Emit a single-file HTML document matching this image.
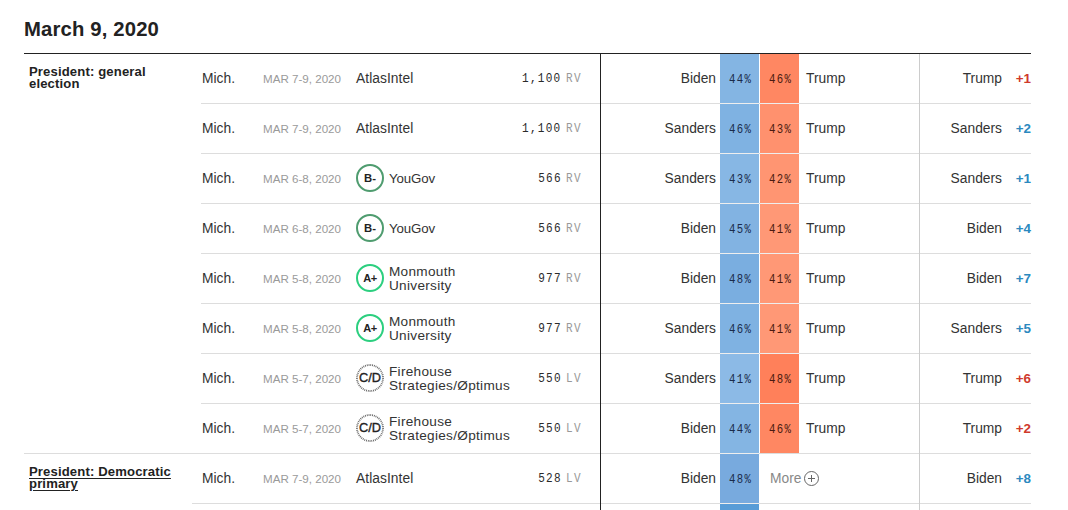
<!DOCTYPE html><html><head><meta charset="utf-8"><style>
*{margin:0;padding:0;box-sizing:border-box}
html,body{width:1068px;height:510px;overflow:hidden;background:#fff}
body{font-family:"Liberation Sans",sans-serif;color:#222;position:relative}
h1{position:absolute;left:24px;top:17px;letter-spacing:0.15px;font-size:20.3px;font-weight:bold;line-height:24px;color:#222;white-space:nowrap}
.topline{position:absolute;left:24px;top:53px;width:1007px;height:1px;background:#222}
.type{position:absolute;left:29px;letter-spacing:0.14px;font-size:13.1px;font-weight:bold;line-height:11.5px;color:#222;white-space:nowrap}
.type.u{text-decoration:underline;text-underline-offset:2px}
.vl{position:absolute;left:600px;top:53px;width:1px;height:457px;background:#222}
.vg{position:absolute;left:919px;top:54px;width:1px;height:456px;background:#ccc}
.sep{position:absolute;left:201px;width:830px;height:1px;background:#ddd}
.sepc{position:absolute;width:39px;height:1px;background:rgba(255,255,255,0.5)}
.t{position:absolute;white-space:nowrap;font-size:13.8px;line-height:16px;letter-spacing:0}
.state{left:202px;color:#333}
.date{left:263px;font-size:11.6px;color:#9a9a9a;letter-spacing:0}
.poll{left:356px;color:#333;font-size:13.8px;letter-spacing:0.05px}
.poll2{left:389px;color:#333;line-height:14px;font-size:13.3px;letter-spacing:-0.15px}
.poll2.two{letter-spacing:0.3px;font-size:13.6px}
.grade{position:absolute;left:356px;width:28px;height:28px;border-radius:50%;font-weight:bold;text-align:center;line-height:24px;color:#222;white-space:nowrap}
.bm{border:2px solid #4f9c6f;font-size:11.3px}
.ap{border:2px solid #2ccf7f;font-size:11px;letter-spacing:-0.4px}
.cd{border:2px solid transparent;font-size:12.8px;letter-spacing:0;font-weight:normal;-webkit-text-stroke:0.35px #222}
.cdsvg{position:absolute;left:356px;width:28px;height:28px}
.mono{font-family:"Liberation Mono",monospace;letter-spacing:0}
.sample{right:506px;font-size:13px;color:#2a2a2a;letter-spacing:1.5px !important;transform:scaleX(0.85);transform-origin:100% 50%}
.pop{left:566px;font-size:13px;color:#999;letter-spacing:1.5px !important;transform:scaleX(0.85);transform-origin:0 50%}
.c1{right:352px;color:#333}
.c2{left:806px;color:#333}
.col{position:absolute;width:39px}
.pct{position:absolute;width:40px;text-align:center;font-size:13px;line-height:16px;letter-spacing:1.6px !important;transform:scaleX(0.82);transform-origin:50% 50%;padding-left:1.4px}
.leader{right:66px;color:#333}
.net{right:37px;font-weight:bold;font-size:13.4px}
.net.r{color:#cf3a2c}
.net.b{color:#2b89bf}
.more{left:770px;color:#888}
.plus{position:absolute;left:804px;width:15px;height:15px;border:1px solid #666;border-radius:50%}
.plus:before{content:"";position:absolute;left:3px;top:6px;width:7px;height:1px;background:#666}
.plus:after{content:"";position:absolute;left:6px;top:3px;width:1px;height:7px;background:#666}
</style></head><body>
<h1>March 9, 2020</h1>
<div class="type" style="top:66px">President: general<br>election</div>
<div class="type u" style="top:466px">President: Democratic<br>primary</div>
<div class="col" style="left:720px;top:54px;height:456px;background:#fff"></div>
<div class="col" style="left:720px;top:53px;height:50px;background:rgb(132,181,227)"></div>
<div class="pct mono" style="left:720px;top:72px;color:#1a2a4a">44%</div>
<div class="col" style="left:760px;top:53px;height:50px;background:rgb(255,135,98)"></div>
<div class="pct mono" style="left:760px;top:72px;color:#4a1a10">46%</div>
<div class="t c2" style="top:71px">Trump</div>
<div class="t state" style="top:71px">Mich.</div>
<div class="t date" style="top:71px">MAR 7-9, 2020</div>
<div class="t poll" style="top:71px">AtlasIntel</div>
<div class="t sample mono" style="top:71px">1,100</div>
<div class="t pop mono" style="top:71px">RV</div>
<div class="t c1" style="top:71px">Biden</div>
<div class="t leader" style="top:71px">Trump</div>
<div class="t net r" style="top:71px">+1</div>
<div class="col" style="left:720px;top:103px;height:50px;background:rgb(127,178,226)"></div>
<div class="pct mono" style="left:720px;top:122px;color:#1a2a4a">46%</div>
<div class="col" style="left:760px;top:103px;height:50px;background:rgb(255,145,110)"></div>
<div class="pct mono" style="left:760px;top:122px;color:#4a1a10">43%</div>
<div class="t c2" style="top:121px">Trump</div>
<div class="t state" style="top:121px">Mich.</div>
<div class="t date" style="top:121px">MAR 7-9, 2020</div>
<div class="t poll" style="top:121px">AtlasIntel</div>
<div class="t sample mono" style="top:121px">1,100</div>
<div class="t pop mono" style="top:121px">RV</div>
<div class="t c1" style="top:121px">Sanders</div>
<div class="t leader" style="top:121px">Sanders</div>
<div class="t net b" style="top:121px">+2</div>
<div class="col" style="left:720px;top:153px;height:50px;background:rgb(135,183,228)"></div>
<div class="pct mono" style="left:720px;top:172px;color:#1a2a4a">43%</div>
<div class="col" style="left:760px;top:153px;height:50px;background:rgb(255,149,114)"></div>
<div class="pct mono" style="left:760px;top:172px;color:#4a1a10">42%</div>
<div class="t c2" style="top:171px">Trump</div>
<div class="t state" style="top:171px">Mich.</div>
<div class="t date" style="top:171px">MAR 6-8, 2020</div>
<div class="grade bm" style="top:164px">B-</div>
<div class="t poll2" style="top:172px">YouGov</div>
<div class="t sample mono" style="top:171px">566</div>
<div class="t pop mono" style="top:171px">RV</div>
<div class="t c1" style="top:171px">Sanders</div>
<div class="t leader" style="top:171px">Sanders</div>
<div class="t net b" style="top:171px">+1</div>
<div class="col" style="left:720px;top:203px;height:50px;background:rgb(130,179,226)"></div>
<div class="pct mono" style="left:720px;top:222px;color:#1a2a4a">45%</div>
<div class="col" style="left:760px;top:203px;height:50px;background:rgb(255,152,118)"></div>
<div class="pct mono" style="left:760px;top:222px;color:#4a1a10">41%</div>
<div class="t c2" style="top:221px">Trump</div>
<div class="t state" style="top:221px">Mich.</div>
<div class="t date" style="top:221px">MAR 6-8, 2020</div>
<div class="grade bm" style="top:214px">B-</div>
<div class="t poll2" style="top:222px">YouGov</div>
<div class="t sample mono" style="top:221px">566</div>
<div class="t pop mono" style="top:221px">RV</div>
<div class="t c1" style="top:221px">Biden</div>
<div class="t leader" style="top:221px">Biden</div>
<div class="t net b" style="top:221px">+4</div>
<div class="col" style="left:720px;top:253px;height:50px;background:rgb(122,174,224)"></div>
<div class="pct mono" style="left:720px;top:272px;color:#1a2a4a">48%</div>
<div class="col" style="left:760px;top:253px;height:50px;background:rgb(255,152,118)"></div>
<div class="pct mono" style="left:760px;top:272px;color:#4a1a10">41%</div>
<div class="t c2" style="top:271px">Trump</div>
<div class="t state" style="top:271px">Mich.</div>
<div class="t date" style="top:271px">MAR 5-8, 2020</div>
<div class="grade ap" style="top:264px">A+</div>
<div class="t poll2 two" style="top:265px">Monmouth<br>University</div>
<div class="t sample mono" style="top:271px">977</div>
<div class="t pop mono" style="top:271px">RV</div>
<div class="t c1" style="top:271px">Biden</div>
<div class="t leader" style="top:271px">Biden</div>
<div class="t net b" style="top:271px">+7</div>
<div class="col" style="left:720px;top:303px;height:50px;background:rgb(127,178,226)"></div>
<div class="pct mono" style="left:720px;top:322px;color:#1a2a4a">46%</div>
<div class="col" style="left:760px;top:303px;height:50px;background:rgb(255,152,118)"></div>
<div class="pct mono" style="left:760px;top:322px;color:#4a1a10">41%</div>
<div class="t c2" style="top:321px">Trump</div>
<div class="t state" style="top:321px">Mich.</div>
<div class="t date" style="top:321px">MAR 5-8, 2020</div>
<div class="grade ap" style="top:314px">A+</div>
<div class="t poll2 two" style="top:315px">Monmouth<br>University</div>
<div class="t sample mono" style="top:321px">977</div>
<div class="t pop mono" style="top:321px">RV</div>
<div class="t c1" style="top:321px">Sanders</div>
<div class="t leader" style="top:321px">Sanders</div>
<div class="t net b" style="top:321px">+5</div>
<div class="col" style="left:720px;top:353px;height:50px;background:rgb(140,186,230)"></div>
<div class="pct mono" style="left:720px;top:372px;color:#1a2a4a">41%</div>
<div class="col" style="left:760px;top:353px;height:50px;background:rgb(255,128,90)"></div>
<div class="pct mono" style="left:760px;top:372px;color:#4a1a10">48%</div>
<div class="t c2" style="top:371px">Trump</div>
<div class="t state" style="top:371px">Mich.</div>
<div class="t date" style="top:371px">MAR 5-7, 2020</div>
<svg class="cdsvg" style="top:364px" width="28" height="28" viewBox="0 0 28 28"><circle cx="14" cy="14" r="13" fill="none" stroke="#666" stroke-width="1.8" stroke-dasharray="0.9 0.9"/></svg>
<div class="grade cd" style="top:364px">C/D</div>
<div class="t poll2 two" style="top:365px">Firehouse<br>Strategies/Øptimus</div>
<div class="t sample mono" style="top:371px">550</div>
<div class="t pop mono" style="top:371px">LV</div>
<div class="t c1" style="top:371px">Sanders</div>
<div class="t leader" style="top:371px">Trump</div>
<div class="t net r" style="top:371px">+6</div>
<div class="col" style="left:720px;top:403px;height:50px;background:rgb(132,181,227)"></div>
<div class="pct mono" style="left:720px;top:422px;color:#1a2a4a">44%</div>
<div class="col" style="left:760px;top:403px;height:50px;background:rgb(255,135,98)"></div>
<div class="pct mono" style="left:760px;top:422px;color:#4a1a10">46%</div>
<div class="t c2" style="top:421px">Trump</div>
<div class="t state" style="top:421px">Mich.</div>
<div class="t date" style="top:421px">MAR 5-7, 2020</div>
<svg class="cdsvg" style="top:414px" width="28" height="28" viewBox="0 0 28 28"><circle cx="14" cy="14" r="13" fill="none" stroke="#666" stroke-width="1.8" stroke-dasharray="0.9 0.9"/></svg>
<div class="grade cd" style="top:414px">C/D</div>
<div class="t poll2 two" style="top:415px">Firehouse<br>Strategies/Øptimus</div>
<div class="t sample mono" style="top:421px">550</div>
<div class="t pop mono" style="top:421px">LV</div>
<div class="t c1" style="top:421px">Biden</div>
<div class="t leader" style="top:421px">Trump</div>
<div class="t net r" style="top:421px">+2</div>
<div class="col" style="left:720px;top:453px;height:50px;background:rgb(120,170,222)"></div>
<div class="pct mono" style="left:720px;top:472px;color:#1a2a4a">48%</div>
<div class="t more" style="top:471px">More</div>
<div class="plus" style="top:471px"></div>
<div class="t state" style="top:471px">Mich.</div>
<div class="t date" style="top:471px">MAR 7-9, 2020</div>
<div class="t poll" style="top:471px">AtlasIntel</div>
<div class="t sample mono" style="top:471px">528</div>
<div class="t pop mono" style="top:471px">LV</div>
<div class="t c1" style="top:471px">Biden</div>
<div class="t leader" style="top:471px">Biden</div>
<div class="t net b" style="top:471px">+8</div>
<div class="sep" style="top:103px;left:201px;width:830px"></div>
<div class="sepc" style="left:720px;top:103px"></div>
<div class="sepc" style="left:760px;top:103px"></div>
<div class="sep" style="top:153px;left:201px;width:830px"></div>
<div class="sepc" style="left:720px;top:153px"></div>
<div class="sepc" style="left:760px;top:153px"></div>
<div class="sep" style="top:203px;left:201px;width:830px"></div>
<div class="sepc" style="left:720px;top:203px"></div>
<div class="sepc" style="left:760px;top:203px"></div>
<div class="sep" style="top:253px;left:201px;width:830px"></div>
<div class="sepc" style="left:720px;top:253px"></div>
<div class="sepc" style="left:760px;top:253px"></div>
<div class="sep" style="top:303px;left:201px;width:830px"></div>
<div class="sepc" style="left:720px;top:303px"></div>
<div class="sepc" style="left:760px;top:303px"></div>
<div class="sep" style="top:353px;left:201px;width:830px"></div>
<div class="sepc" style="left:720px;top:353px"></div>
<div class="sepc" style="left:760px;top:353px"></div>
<div class="sep" style="top:403px;left:201px;width:830px"></div>
<div class="sepc" style="left:720px;top:403px"></div>
<div class="sepc" style="left:760px;top:403px"></div>
<div class="sep" style="top:453px;left:24px;width:1007px"></div>
<div class="sepc" style="left:720px;top:453px"></div>
<div class="sep" style="top:503px;left:192px;width:839px"></div>
<div class="sepc" style="left:720px;top:503px"></div>
<div class="col" style="left:720px;top:504px;height:6px;background:rgb(88,156,215)"></div>
<div class="vl"></div><div class="vg"></div><div class="topline"></div>
</body></html>
